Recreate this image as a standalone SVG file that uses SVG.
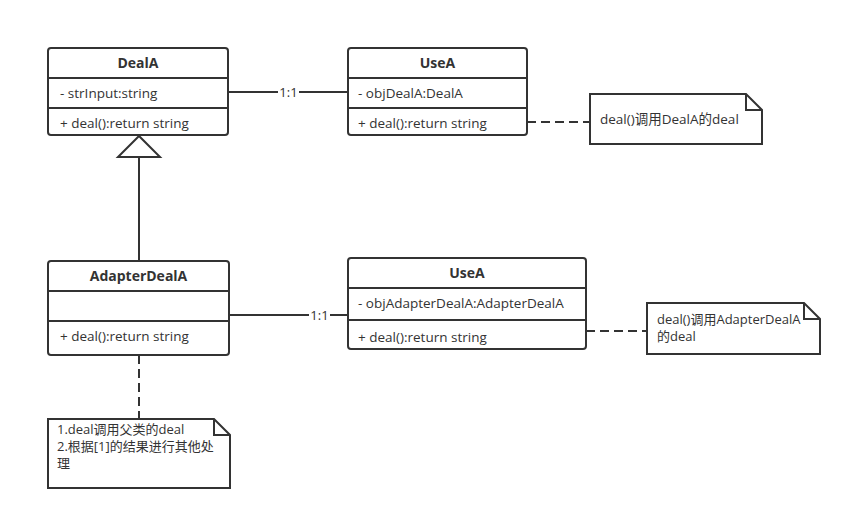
<svg xmlns="http://www.w3.org/2000/svg" width="851" height="520" viewBox="0 0 851 520">
<style>
.box{fill:#fff;stroke:#333;stroke-width:2}
.div{stroke:#333;stroke-width:2}
.ln{stroke:#333;stroke-width:2;fill:none}
.dash{stroke:#333;stroke-width:2;fill:none;stroke-dasharray:9 5}
.t{font-family:"Open Sans","Noto Sans CJK SC",sans-serif;font-size:13.5px;fill:#333}
.n{font-family:"Open Sans","Noto Sans CJK SC",sans-serif;font-size:13px;fill:#333}
.b{font-weight:bold;text-anchor:middle;font-size:14px}
.lbl{font-family:"Open Sans","Noto Sans CJK SC",sans-serif;font-size:13px;fill:#333;text-anchor:middle}
</style>
<rect width="851" height="520" fill="#fff"/>
<g id="connectors">
<line class="ln" x1="228" y1="92" x2="348" y2="92"/>
<rect x="278" y="84" width="21" height="16" fill="#fff"/>
<text class="lbl" x="288.5" y="97">1:1</text>
<line class="ln" x1="229" y1="315" x2="348" y2="315"/>
<rect x="309" y="307" width="21" height="16" fill="#fff"/>
<text class="lbl" x="319.5" y="320">1:1</text>
<line class="ln" x1="139" y1="157" x2="139" y2="261"/>
<polygon points="139,136 118,157 160,157" fill="#fff" stroke="#333" stroke-width="2"/>
<line class="dash" x1="527" y1="122" x2="590" y2="122"/>
<line class="dash" x1="586" y1="331" x2="647" y2="331"/>
<line class="dash" x1="139" y1="355" x2="139" y2="419"/>
</g>
<g id="DealA">
<rect class="box" x="48" y="48" width="180" height="87" rx="3"/>
<line class="div" x1="48" y1="78" x2="228" y2="78"/>
<line class="div" x1="48" y1="108" x2="228" y2="108"/>
<text class="t b" x="138" y="68">DealA</text>
<text class="t" x="60" y="98">- strInput:string</text>
<text class="t" x="60" y="128">+ deal():return string</text>
</g>
<g id="UseA1">
<rect class="box" x="348" y="48" width="179" height="87" rx="3"/>
<line class="div" x1="348" y1="78" x2="527" y2="78"/>
<line class="div" x1="348" y1="108" x2="527" y2="108"/>
<text class="t b" x="437.5" y="68">UseA</text>
<text class="t" x="358" y="98">- objDealA:DealA</text>
<text class="t" x="358" y="128">+ deal():return string</text>
</g>
<g id="AdapterDealA">
<rect class="box" x="48" y="261" width="181" height="94" rx="3"/>
<line class="div" x1="48" y1="291" x2="229" y2="291"/>
<line class="div" x1="48" y1="321" x2="229" y2="321"/>
<text class="t b" x="138.5" y="281">AdapterDealA</text>
<text class="t" x="60" y="341">+ deal():return string</text>
</g>
<g id="UseA2">
<rect class="box" x="348" y="258" width="238" height="91" rx="3"/>
<line class="div" x1="348" y1="288" x2="586" y2="288"/>
<line class="div" x1="348" y1="320" x2="586" y2="320"/>
<text class="t b" x="467" y="278">UseA</text>
<text class="t" x="358" y="308">- objAdapterDealA:AdapterDealA</text>
<text class="t" x="358" y="342">+ deal():return string</text>
</g>
<g id="note1">
<path class="box" d="M590,94 H746 L762,110 V144 H590 Z"/>
<path class="ln" d="M746,94 V110 H762"/>
<text class="t" x="600" y="124">deal()调用DealA的deal</text>
</g>
<g id="note2">
<path class="box" d="M647,303 H804 L820,319 V354 H647 Z"/>
<path class="ln" d="M804,303 V319 H820"/>
<text class="n" x="657" y="324">deal()调用AdapterDealA<tspan x="657" dy="17">的deal</tspan></text>
</g>
<g id="note3">
<path class="box" d="M48,419 H214 L230,435 V488 H48 Z"/>
<path class="ln" d="M214,419 V435 H230"/>
<text class="n" x="57" y="434">1.deal调用父类的deal<tspan x="57" dy="17">2.根据[1]的结果进行其他处</tspan><tspan x="57" dy="17">理</tspan></text>
</g>
</svg>
